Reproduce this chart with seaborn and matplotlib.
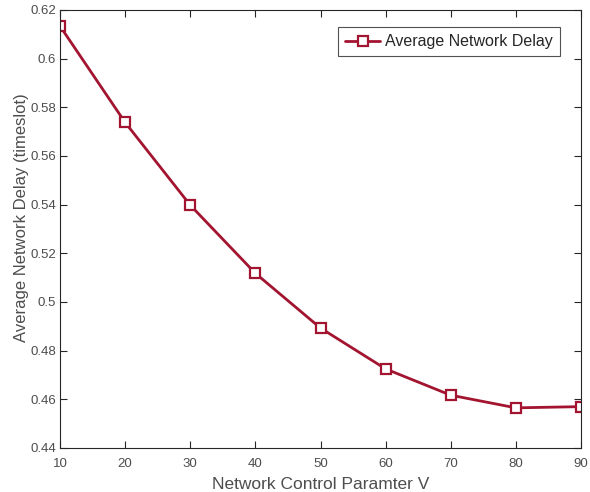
import matplotlib
matplotlib.use("Agg")
import matplotlib.pyplot as plt
import seaborn as sns
import pandas as pd

V = [10, 20, 30, 40, 50, 60, 70, 80, 90]
delay = [0.6134, 0.5738, 0.5398, 0.5118, 0.4893, 0.4725, 0.4617, 0.4565, 0.4570]
yticks = [0.44, 0.46, 0.48, 0.5, 0.52, 0.54, 0.56, 0.58, 0.6, 0.62]
ytick_labels = ["0.44", "0.46", "0.48", "0.5", "0.52", "0.54", "0.56", "0.58", "0.6", "0.62"]

sns.set_style("white")
plt.rcParams['font.family'] = ['Liberation Sans', 'DejaVu Sans']

df = pd.DataFrame({"V": V, "delay": delay})
color = "#A2142F"

L, R, T, B = 60, 581, 10, 448
fig = plt.figure(figsize=(5.9, 4.92), dpi=100)
ax = fig.add_axes([L/590, 1-B/492, (R-L)/590, (B-T)/492])
sns.lineplot(data=df, x="V", y="delay", ax=ax, color=color, lw=2,
             marker="s", markersize=6.5, markerfacecolor="white",
             markeredgecolor=color, markeredgewidth=1.6,
             label="Average Network Delay")

ax.set_xlim(10, 90)
ax.set_ylim(0.44, 0.62)
ax.set_xticks(V)
ax.set_yticks(yticks)
ax.set_yticklabels(ytick_labels)
ax.tick_params(direction="in", length=5, width=0.8, colors="#262626",
               labelcolor="#4d4d4d", labelsize=9.5, top=True, right=True,
               bottom=True, left=True)
ax.tick_params(axis="x", pad=7)
ax.tick_params(axis="y", pad=3)
for s in ax.spines.values():
    s.set_color("#262626")
    s.set_linewidth(0.8)
    s.set_visible(True)
ax.set_xlabel("Network Control Paramter V", fontsize=12.5, color="#4d4d4d", labelpad=5)
ax.set_ylabel("Average Network Delay (timeslot)", fontsize=12, color="#4d4d4d")
ax.yaxis.set_label_coords(-31/(R-L), 1-(218-T)/(B-T))
leg = ax.legend(loc="upper right", bbox_to_anchor=((560-L)/(R-L), 1-(27-T)/(B-T)),
                borderaxespad=0,
                fontsize=11.5, frameon=True, fancybox=False, borderpad=0.45,
                handlelength=2.2, handletextpad=0.3)
leg.get_frame().set_edgecolor("#262626")
leg.get_frame().set_linewidth(0.8)
fig.savefig("out.png", dpi=100)
